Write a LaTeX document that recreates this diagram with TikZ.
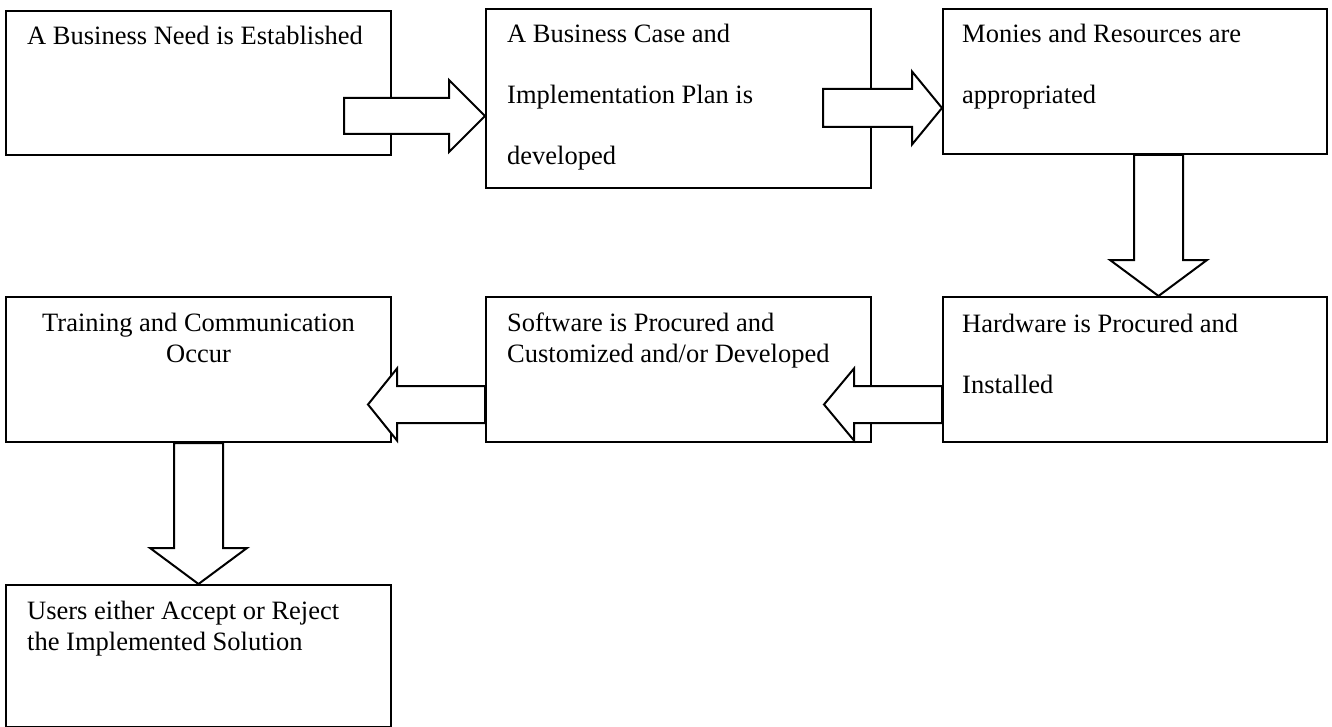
\documentclass[tikz,border=0pt]{standalone}
\usepackage{fontspec}
\setmainfont{Liberation Serif}
\usetikzlibrary{calc}
\tikzset{
    stepbox/.style={draw=black, line width=2pt, fill=white, rectangle, inner sep=0pt, anchor=north west},
    boxtext/.style={font=\fontsize{26.5}{30.5}\selectfont, align=left, inner sep=0pt, anchor=base west},
    boxtextwide/.style={boxtext, font=\fontsize{26.5}{61}\selectfont},
    blockarrow/.style={draw=black, line width=2pt, fill=white, line join=miter}
}
% horizontal block arrow: tail, tip, half shaft, half head, head length
\newcommand{\hblock}[5]{%
    \draw[blockarrow] let \p1=(#1), \p2=(#2) in
        ({\x1},{\y2+#3}) -- ({\x2-(#5)},{\y2+#3}) -- ({\x2-(#5)},{\y2+#4}) -- (\p2)
        -- ({\x2-(#5)},{\y2-#4}) -- ({\x2-(#5)},{\y2-#3}) -- ({\x1},{\y2-#3}) -- cycle;}
% vertical block arrow (pointing down)
\newcommand{\vblock}[5]{%
    \draw[blockarrow] let \p1=(#1), \p2=(#2) in
        ({\x2+#3},{\y1}) -- ({\x2+#3},{\y2+#5}) -- ({\x2+#4},{\y2+#5}) -- (\p2)
        -- ({\x2-#4},{\y2+#5}) -- ({\x2-#3},{\y2+#5}) -- ({\x2-#3},{\y1}) -- cycle;}

\begin{document}
\begin{tikzpicture}[x=1pt, y=-1pt]
    \useasboundingbox (0,0) rectangle (1332,727);

    % the boxes
    \node[stepbox, minimum width=385, minimum height=144] (need) at (5,10) {};
    \node[stepbox, minimum width=385, minimum height=179] (case) at (485,8) {};
    \node[stepbox, minimum width=384, minimum height=145] (monies) at (942,8) {};
    \node[stepbox, minimum width=384, minimum height=145] (hardware) at (942,296) {};
    \node[stepbox, minimum width=385, minimum height=145] (software) at (485,296) {};
    \node[stepbox, minimum width=385, minimum height=145] (training) at (5,296) {};
    \node[stepbox, minimum width=385, minimum height=142] (users) at (5,584) {};

    % texts (base = last line)
    \node[boxtext] (needtext) at ($(need.north west)+(22,35)$) {A Business Need is Established};
    \node[boxtextwide] (casetext) at ($(case.north west)+(22,157)$) {A Business Case and\\Implementation Plan is\\developed};
    \node[boxtextwide] (moniestext) at ($(monies.north west)+(20,96)$) {Monies and Resources are\\appropriated};
    \node[boxtextwide] (hardwaretext) at ($(hardware.north west)+(20,97)$) {Hardware is Procured and\\Installed};
    \node[boxtext] (softwaretext) at ($(software.north west)+(22,66)$) {Software is Procured and\\Customized and/or Developed};
    \node[boxtext, anchor=base, align=center] (trainingtext) at ($(training.north)+(0,66)$) {Training and Communication\\Occur};
    \node[boxtext] (userstext) at ($(users.north west)+(22,66)$) {Users either Accept or Reject\\the Implemented Solution};

    % arrow ends
    \coordinate (needout) at ($(need.north east)+(-48,106)$);
    \coordinate (casein) at ($(case.north west)+(0,108)$);
    \coordinate (caseout) at ($(case.north east)+(-49,100)$);
    \coordinate (moniesin) at ($(monies.north west)+(0,100)$);
    \coordinate (moniesout) at ($(monies.south)+(23.5,0)$);
    \coordinate (hardwarein) at ($(hardware.north)+(23.5,0)$);
    \coordinate (hardwareout) at ($(hardware.north west)+(0,108.5)$);
    \coordinate (softwarein) at ($(software.north east)+(-48,108.5)$);
    \coordinate (softwareout) at ($(software.north west)+(0,108.5)$);
    \coordinate (trainingin) at ($(training.north east)+(-24,108.5)$);

    % block arrows
    \hblock{needout}{casein}{18pt}{36pt}{36pt}
    \hblock{caseout}{moniesin}{19pt}{36.5pt}{30pt}
    \vblock{moniesout}{hardwarein}{24.5pt}{48.5pt}{36pt}
    \hblock{hardwareout}{softwarein}{18.5pt}{36pt}{-30pt}
    \hblock{softwareout}{trainingin}{18.5pt}{36pt}{-29pt}
    \vblock{training.south}{users.north}{24.5pt}{48.5pt}{36pt}
\end{tikzpicture}
\end{document}
